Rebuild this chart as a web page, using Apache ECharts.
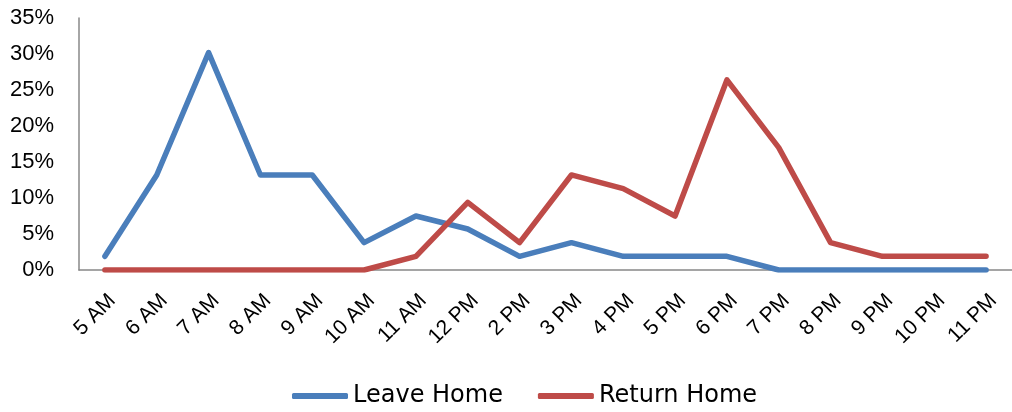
<!DOCTYPE html>
<html><head><meta charset="utf-8">
<script src="https://cdn.jsdelivr.net/npm/echarts@6/dist/echarts.min.js"></script>
<style>html,body{margin:0;padding:0;background:#fff}#c{width:1012px;height:412px}</style>
</head><body><div id="c"></div>
<script>
var categories = ['5 AM','6 AM','7 AM','8 AM','9 AM','10 AM','11 AM','12 PM','2 PM','3 PM','4 PM','5 PM','6 PM','7 PM','8 PM','9 PM','10 PM','11 PM'];
var leaveHome = [1.9, 13.2, 30.2, 13.2, 13.2, 3.8, 7.5, 5.7, 1.9, 3.8, 1.9, 1.9, 1.9, 0, 0, 0, 0, 0];
var returnHome = [0, 0, 0, 0, 0, 0, 1.9, 9.4, 3.8, 13.2, 11.3, 7.5, 26.4, 17.0, 3.8, 1.9, 1.9, 1.9];
var seriesNames = ['Leave Home', 'Return Home'];

var chart = echarts.init(document.getElementById('c'), null, {renderer: 'canvas'});
chart.setOption({
  animation: false,
  color: ['#4A7EBB', '#BE4B48'],
  grid: {left: 79, top: 18, width: 941, bottom: 142, containLabel: false},
  legend: {
    top: 379, left: 287,
    icon: 'roundRect',
    itemWidth: 56, itemHeight: 6, itemGap: 35,
    textStyle: {fontFamily: '"DejaVu Sans", sans-serif', fontSize: 24, color: '#000', padding: [0, 0, 0, 0]},
    data: seriesNames
  },
  xAxis: {
    type: 'category', data: categories, boundaryGap: true,
    axisLine: {lineStyle: {color: '#888', width: 1.5}},
    axisTick: {show: false},
    axisLabel: {rotate: 45, margin: 20, interval: 0, verticalAlign: 'top', fontFamily: '"Liberation Sans", Arial, sans-serif', fontSize: 21, color: '#000'}
  },
  yAxis: {
    type: 'value', min: 0, max: 35, interval: 5,
    axisLine: {show: true, lineStyle: {color: '#888', width: 1.5}},
    axisTick: {show: false},
    splitLine: {show: false},
    axisLabel: {formatter: '{value}%', margin: 25, fontFamily: '"Liberation Sans", Arial, sans-serif', fontSize: 22, color: '#000'}
  },
  series: [
    {name: seriesNames[0], type: 'line', data: leaveHome, symbol: 'none', lineStyle: {width: 5.5, cap: 'round', join: 'round'}},
    {name: seriesNames[1], type: 'line', data: returnHome, symbol: 'none', lineStyle: {width: 5.5, cap: 'round', join: 'round'}}
  ]
});
</script></body></html>
